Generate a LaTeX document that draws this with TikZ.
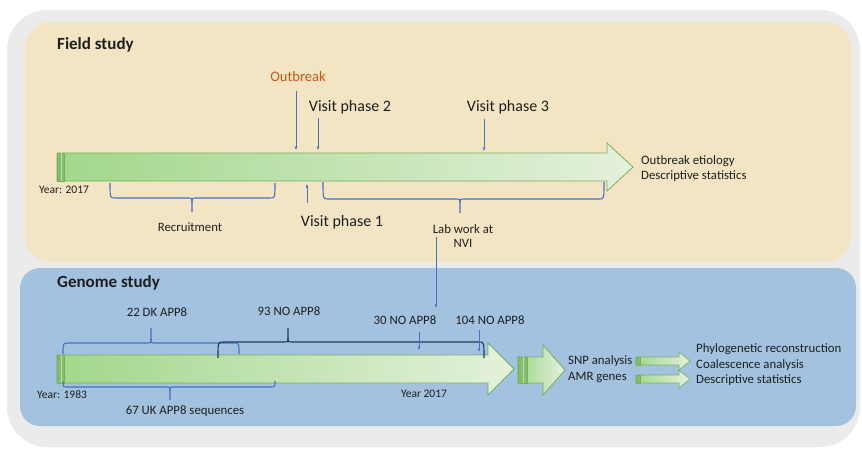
\documentclass[tikz,border=0pt]{standalone}
\usepackage{fontspec}
\setmainfont{Carlito}
\usetikzlibrary{arrows.meta}

\definecolor{outerbg}{HTML}{EBEBEB}
\definecolor{fieldbg}{HTML}{F3E5C3}
\definecolor{genomebg}{HTML}{A2C2DF}
\definecolor{shaftL}{HTML}{A2D78C}
\definecolor{shaftR}{HTML}{E4F1DB}
\definecolor{shaftedge}{HTML}{7AAE5A}
\definecolor{stripcol}{HTML}{84BE6C}
\definecolor{bluemark}{HTML}{4472C4}
\definecolor{navymark}{HTML}{203864}
\definecolor{orangetxt}{HTML}{C55A11}
\definecolor{txt}{HTML}{1F1F1F}

% horizontal curly bracket: style, x1, x2, x of tip, y of ends, y of bar, y of tip
\newcommand\hbrk[7]{%
  \draw[#1] (#2,#5) .. controls (#2,#6) .. (#2+5,#6) -- (#4-5,#6)
     .. controls (#4,#6) .. (#4,{#6+0.3*(#7-#6)}) -- (#4,#7);
  \draw[#1] (#3,#5) .. controls (#3,#6) .. (#3-5,#6) -- (#4+5,#6)
     .. controls (#4,#6) .. (#4,{#6+0.3*(#7-#6)});
}

\tikzset{
  ttl/.style={font=\bfseries\fontsize{17}{20}\selectfont, text=txt, inner sep=0pt},
  big/.style={font=\fontsize{16}{19}\selectfont, text=txt, inner sep=0pt},
  lbl/.style={font=\fontsize{12.8}{15}\selectfont, text=txt, inner sep=0pt},
  yr/.style={font=\fontsize{11.5}{14}\selectfont, text=txt, inner sep=0pt},
  darr/.style={draw=bluemark, line width=0.6pt, -{Latex[length=3.5pt,width=3pt]}},
  brkblue/.style={draw=bluemark, line width=1.1pt},
  brknavy/.style={draw=navymark, line width=1.1pt},
  blockarr/.style={left color=shaftL, right color=shaftR, draw=shaftedge, line width=0.8pt, line join=miter},
  stripbox/.style={fill=stripcol, draw=shaftedge, line width=0.6pt},
}

\begin{document}
\begin{tikzpicture}[x=1pt,y=-1pt]
\useasboundingbox (0,0) rectangle (862,453);
\fill[white] (0,0) rectangle (862,453);

% panels
\fill[outerbg, rounded corners=40pt] (7,10) rectangle (860,447);
\fill[fieldbg, rounded corners=26pt] (25,22) rectangle (851,262);
\fill[genomebg, rounded corners=20pt] (20,268) rectangle (856,426);

% ---------------- field study ----------------
\node[ttl, anchor=west] (fs) at (57,45) {Field study};

\draw[blockarr] (57,153) -- (607,153) -- (607,143) -- (633,167) -- (607,191) -- (607,181) -- (57,181) -- cycle;
\draw[stripbox] (57,153) rectangle (64,181);
\draw[shaftR!60!stripcol, line width=0.6pt] (61,153) -- (61,181);

\node[yr] (y17a) at (64,190) {Year: 2017};

\node[font=\fontsize{14.5}{17}\selectfont, text=orangetxt, inner sep=0pt] (ob) at (298,77) {Outbreak};
\node[big] (vp2) at (350,107) {Visit phase 2};
\node[big] (vp3) at (508,107) {Visit phase 3};
\node[big] (vp1) at (342,222) {Visit phase 1};

\coordinate (t-ob) at (296,150);
\coordinate (t-vp2) at (318,150);
\coordinate (t-vp3) at (484,151);
\coordinate (t-vp1) at (307,184);
\draw[darr, shorten <=9pt] (ob.south -| t-ob) -- (t-ob);
\draw[darr, shorten <=4pt] (vp2.south -| t-vp2) -- (t-vp2);
\draw[darr, shorten <=5pt] (vp3.south -| t-vp3) -- (t-vp3);
\draw[darr, shorten <=12pt] (vp1.north -| t-vp1) -- (t-vp1);

\hbrk{brkblue}{110}{275}{192}{183}{198}{212}
\node[lbl] (rec) at (190,227) {Recruitment};

\hbrk{brkblue}{323}{604}{460}{182}{199}{213}
\node[lbl] (lab1) at (463,229) {Lab work at};
\node[lbl] (lab2) at (463,243) {NVI};

\coordinate (t-lab) at (436,308);
\draw[darr, shorten <=3pt] (lab1.south -| t-lab) -- (t-lab);

\node[lbl, anchor=west] (oe) at (641,161) {Outbreak etiology};
\node[lbl, anchor=west] (ds1) at (641,176) {Descriptive statistics};

% ---------------- genome study ----------------
\node[ttl, anchor=west] (gs) at (57,283) {Genome study};

\draw[blockarr] (57,355) -- (488,355) -- (488,343) -- (514,369) -- (488,395) -- (488,383) -- (57,383) -- cycle;
\draw[stripbox] (57,355) rectangle (64,383);
\draw[shaftR!60!stripcol, line width=0.6pt] (61,355) -- (61,383);

\node[yr] (y83) at (62,395) {Year: 1983};
\node[yr] (y17b) at (424,394) {Year 2017};

\hbrk{brkblue}{63}{239}{151}{354}{343}{328}
\hbrk{brknavy}{218}{484}{288}{358}{342}{328}
\node[lbl] (dk) at (157,312) {22 DK APP8};
\node[lbl] (no93) at (289,311) {93 NO APP8};

\hbrk{brkblue}{63}{275}{170}{381}{387}{400}
\node[lbl] (uk) at (185,411) {67 UK APP8 sequences};

\node[lbl] (no30) at (405,320) {30 NO APP8};
\node[lbl] (no104) at (490,320) {104 NO APP8};
\coordinate (t-30) at (419,350);
\coordinate (t-104) at (479,352);
\draw[darr, shorten <=7pt] (no30.south -| t-30) -- (t-30);
\draw[darr, shorten <=5pt] (no104.south -| t-104) -- (t-104);

% second stage arrow
\draw[blockarr] (518,357) -- (543,357) -- (543,345) -- (565,370) -- (543,395) -- (543,383) -- (518,383) -- cycle;
\draw[stripbox] (518,357) rectangle (527,383);
\draw[shaftR!60!stripcol, line width=0.7pt] (523,357) -- (523,383);

\node[lbl, anchor=west] (snp) at (568,361) {SNP analysis};
\node[lbl, anchor=west] (amr) at (568,377) {AMR genes};

% output arrows
\draw[blockarr, line width=0.6pt] (636,357) -- (679,357) -- (679,352) -- (690,361) -- (679,370) -- (679,365) -- (636,365) -- cycle;
\draw[stripbox] (636,357) rectangle (640,365);
\draw[blockarr, line width=0.6pt] (636,375) -- (679,375) -- (679,370) -- (690,379) -- (679,388) -- (679,383) -- (636,383) -- cycle;
\draw[stripbox] (636,375) rectangle (640,383);

\node[lbl, anchor=west] (phy) at (696,349) {Phylogenetic reconstruction};
\node[lbl, anchor=west] (coa) at (696,365) {Coalescence analysis};
\node[lbl, anchor=west] (ds2) at (696,380) {Descriptive statistics};
\end{tikzpicture}
\end{document}
